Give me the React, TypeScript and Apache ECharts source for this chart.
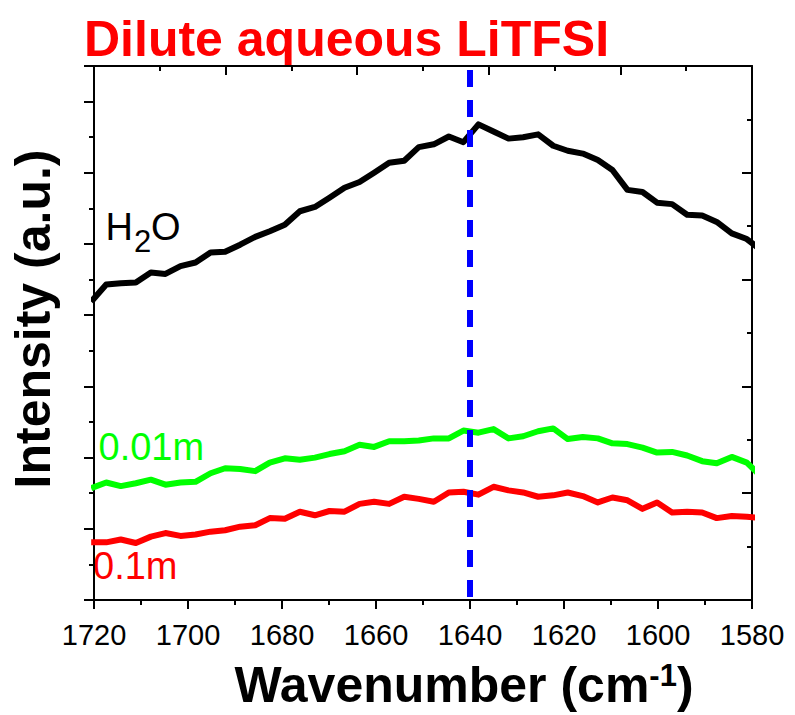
import React, { useEffect, useRef } from "react";
import * as echarts from "echarts";

// Wavenumber (cm-1) of each sampled point
const WAVENUMBER = [
  1720.6, 1717.4, 1714.3, 1711.1, 1707.9, 1704.8, 1701.6, 1698.4, 1695.2, 1692.1,
  1688.9, 1685.7, 1682.6, 1679.4, 1676.2, 1673.0, 1669.9, 1666.7, 1663.5, 1660.4,
  1657.2, 1654.0, 1650.9, 1647.7, 1644.5, 1641.4, 1638.2, 1635.0, 1631.8, 1628.7,
  1625.5, 1622.3, 1619.2, 1616.0, 1612.8, 1609.7, 1606.5, 1603.3, 1600.2, 1597.0,
  1593.8, 1590.6, 1587.5, 1584.3, 1581.1, 1578.0,
];

// Intensity (a.u., offset) of each trace
const H2O = [
  4.19, 4.43, 4.45, 4.46, 4.60, 4.58, 4.69, 4.74, 4.88, 4.89,
  4.99, 5.10, 5.18, 5.27, 5.46, 5.52, 5.65, 5.79, 5.87, 6.00,
  6.14, 6.17, 6.36, 6.40, 6.51, 6.43, 6.68, 6.58, 6.48, 6.50,
  6.54, 6.38, 6.31, 6.27, 6.18, 6.04, 5.76, 5.73, 5.58, 5.56,
  5.41, 5.40, 5.31, 5.15, 5.07, 4.91,
];
const M001 = [
  1.57, 1.65, 1.60, 1.64, 1.69, 1.62, 1.65, 1.66, 1.78, 1.85,
  1.84, 1.81, 1.93, 1.99, 1.97, 2.00, 2.05, 2.09, 2.18, 2.15,
  2.23, 2.23, 2.24, 2.27, 2.27, 2.38, 2.35, 2.40, 2.27, 2.30,
  2.37, 2.41, 2.26, 2.29, 2.27, 2.20, 2.19, 2.14, 2.07, 2.08,
  2.03, 1.95, 1.92, 2.01, 1.93, 1.73,
];
const M01 = [
  0.81, 0.81, 0.85, 0.80, 0.89, 0.94, 0.90, 0.92, 0.96, 0.98,
  1.03, 1.05, 1.15, 1.14, 1.24, 1.19, 1.25, 1.24, 1.35, 1.38,
  1.35, 1.45, 1.42, 1.38, 1.51, 1.52, 1.48, 1.59, 1.54, 1.51,
  1.45, 1.47, 1.51, 1.46, 1.37, 1.44, 1.40, 1.28, 1.37, 1.23,
  1.24, 1.23, 1.15, 1.18, 1.17, 1.15,
];

const MARKER_X = 1640;
const X_MIN = 1580;
const X_MAX = 1720;
const X_STEP = 20;
const Y_MIN = 0;
const Y_MAX = 7.5;

const TITLE = "Dilute aqueous LiTFSI";
const X_NAME = "{a|Wavenumber (cm}{s|-1}{a|)}";
const Y_NAME = "Intensity (a.u.)";

const FONT = "'Liberation Sans', Arial, Helvetica, sans-serif";

export default function App() {
  const ref = useRef<HTMLDivElement>(null);

  useEffect(() => {
    const chart = echarts.init(ref.current!, null, { renderer: "svg" });
    const pairs = (ys: number[]) => WAVENUMBER.map((x, i) => [x, ys[i]]);
    const axisLine = { show: true, onZero: false, lineStyle: { color: "#000", width: 2 } };
    const tickStyle = { color: "#000", width: 2 };

    chart.setOption({
      animation: false,
      backgroundColor: "#fff",
      grid: { left: 90, right: 43, top: 66, bottom: 114 },
      xAxis: [
        {
          type: "value",
          position: "bottom",
          inverse: true,
          min: X_MIN,
          max: X_MAX,
          interval: X_STEP,
          axisLine,
          axisTick: { show: true, inside: false, length: 9, lineStyle: tickStyle },
          minorTick: { show: true, splitNumber: 2, length: 5, lineStyle: tickStyle },
          axisLabel: {
            show: true,
            fontSize: 29,
            color: "#000",
            fontFamily: FONT,
            margin: 20,
            formatter: (v: number) => String(v),
          },
          splitLine: { show: false },
          name: X_NAME,
          nameLocation: "middle",
          nameGap: 60,
          nameTextStyle: {
            fontFamily: FONT,
            fontWeight: "bold",
            fontSize: 50,
            color: "#000",
            padding: [0, 0, 0, 82],
            rich: {
              a: { fontFamily: FONT, fontWeight: "bold", fontSize: 50, lineHeight: 50, color: "#000", verticalAlign: "middle" },
              s: { fontFamily: FONT, fontWeight: "bold", fontSize: 31, lineHeight: 18, color: "#000", verticalAlign: "top" },
            },
          },
        },
        {
          type: "value",
          position: "top",
          min: 0,
          max: 10,
          interval: 2,
          axisLine,
          axisTick: { show: true, inside: true, length: 9, lineStyle: tickStyle },
          minorTick: { show: true, splitNumber: 2, length: 5, lineStyle: tickStyle },
          axisLabel: { show: false },
          splitLine: { show: false },
        },
      ],
      yAxis: [
        {
          type: "value",
          position: "left",
          min: Y_MIN,
          max: Y_MAX,
          interval: 1,
          axisLine,
          axisTick: { show: true, inside: false, length: 10, lineStyle: tickStyle },
          minorTick: { show: true, splitNumber: 2, length: 5, lineStyle: tickStyle },
          axisLabel: { show: false },
          splitLine: { show: false },
          name: Y_NAME,
          nameLocation: "middle",
          nameGap: 36,
          nameTextStyle: {
            fontFamily: FONT,
            fontWeight: "bold",
            fontSize: 50,
            color: "#000",
            padding: [0, 0, 0, 28],
          },
        },
        {
          type: "value",
          position: "right",
          min: 0,
          max: 5,
          interval: 1,
          axisLine,
          axisTick: { show: true, inside: true, length: 10, lineStyle: tickStyle },
          minorTick: { show: true, splitNumber: 2, length: 5, lineStyle: tickStyle },
          axisLabel: { show: false },
          splitLine: { show: false },
        },
      ],
      series: [
        {
          name: "H2O",
          type: "line",
          data: pairs(H2O),
          showSymbol: false,
          symbol: "none",
          clip: true,
          lineStyle: { color: "#000000", width: 6, join: "round" },
        },
        {
          name: "0.01m",
          type: "line",
          data: pairs(M001),
          showSymbol: false,
          symbol: "none",
          clip: true,
          lineStyle: { color: "#00ff00", width: 6, join: "round" },
        },
        {
          name: "0.1m",
          type: "line",
          data: pairs(M01),
          showSymbol: false,
          symbol: "none",
          clip: true,
          lineStyle: { color: "#ff0000", width: 6, join: "round" },
        },
        {
          name: "1640",
          type: "line",
          data: [
            [MARKER_X, Y_MAX],
            [MARKER_X, Y_MIN],
          ],
          showSymbol: false,
          symbol: "none",
          lineStyle: { color: "#0000ff", width: 6, type: [17, 13], dashOffset: -4, cap: "butt" },
          z: 5,
        },
      ],
      graphic: [
        {
          type: "text",
          x: 84,
          y: 38.5,
          style: { text: TITLE, fill: "#ff0000", fontFamily: FONT, fontWeight: "bold", fontSize: 50, align: "left", verticalAlign: "middle" },
        },
        {
          type: "text",
          x: 105.5,
          y: 227,
          style: { text: "H", fill: "#000", fontFamily: FONT, fontSize: 38, align: "left", verticalAlign: "middle" },
        },
        {
          type: "text",
          x: 134,
          y: 241.3,
          style: { text: "2", fill: "#000", fontFamily: FONT, fontSize: 31, align: "left", verticalAlign: "middle" },
        },
        {
          type: "text",
          x: 151,
          y: 227,
          style: { text: "O", fill: "#000", fontFamily: FONT, fontSize: 38, align: "left", verticalAlign: "middle" },
        },
        {
          type: "text",
          x: 98.5,
          y: 446.7,
          style: { text: "0.01m", fill: "#00ff00", fontFamily: FONT, fontSize: 38, align: "left", verticalAlign: "middle" },
        },
        {
          type: "text",
          x: 93,
          y: 566.3,
          style: { text: "0.1m", fill: "#ff0000", fontFamily: FONT, fontSize: 38, align: "left", verticalAlign: "middle" },
        },
      ],
    });

    return () => chart.dispose();
  }, []);

  return (
    <div
      ref={ref}
      style={{ position: "fixed", left: 0, top: 0, width: 795, height: 715, background: "#fff" }}
    />
  );
}
